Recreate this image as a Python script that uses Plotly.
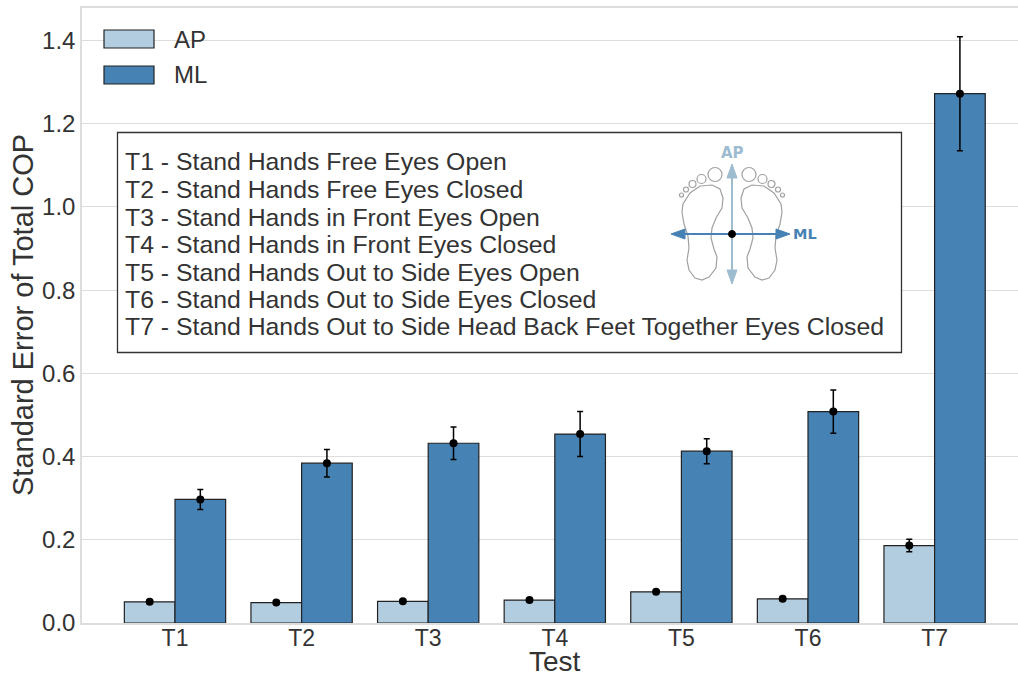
import plotly.graph_objects as go

tests = ["T1", "T2", "T3", "T4", "T5", "T6", "T7"]
ap_values = [0.051, 0.049, 0.052, 0.055, 0.075, 0.058, 0.186]
ap_err = [0.004, 0.004, 0.004, 0.004, 0.005, 0.005, 0.015]
ml_values = [0.297, 0.384, 0.432, 0.454, 0.413, 0.508, 1.272]
ml_err = [0.024, 0.033, 0.039, 0.054, 0.030, 0.052, 0.137]
legend_lines = [
    "T1 - Stand Hands Free Eyes Open",
    "T2 - Stand Hands Free Eyes Closed",
    "T3 - Stand Hands in Front Eyes Open",
    "T4 - Stand Hands in Front Eyes Closed",
    "T5 - Stand Hands Out to Side Eyes Open",
    "T6 - Stand Hands Out to Side Eyes Closed",
    "T7 - Stand Hands Out to Side Head Back Feet Together Eyes Closed",
]

FONT = "Liberation Sans"
TXT = "#333333"
AP_C = "#b3cde0"
ML_C = "#4682b4"
W, H = 1018, 678
L, R, T, B = 82, 1018, 8, 623


def px(x):
    return (x - L) / (R - L)


def py(y):
    return (B - y) / (B - T)


fig = go.Figure()
fig.add_bar(name="AP", x=tests, y=ap_values, marker=dict(color=AP_C, line=dict(color="#222222", width=1.2)))
fig.add_bar(name="ML", x=tests, y=ml_values, marker=dict(color=ML_C, line=dict(color="#222222", width=1.2)))

offset = 0.2
for vals, errs, sign in ((ap_values, ap_err, -1), (ml_values, ml_err, 1)):
    fig.add_scatter(
        x=[i + sign * offset for i in range(len(tests))], y=vals, mode="markers", showlegend=False,
        xaxis="x2", marker=dict(color="black", size=8),
        error_y=dict(type="data", array=errs, color="black", thickness=1.5, width=3),
        hoverinfo="skip",
    )

shapes = []
annots = []


def line(x0, y0, x1, y1, color, width):
    shapes.append(dict(type="line", xref="paper", yref="paper", x0=px(x0), y0=py(y0), x1=px(x1), y1=py(y1),
                       line=dict(color=color, width=width), layer="above"))


def path(points, color, width=1, fill=None, close=False):
    d = "M " + " L ".join(f"{px(a):.5f},{py(b):.5f}" for a, b in points)
    if close:
        d += " Z"
    shapes.append(dict(type="path", xref="paper", yref="paper", path=d,
                       line=dict(color=color, width=width), fillcolor=fill, layer="above"))


def circle(cx, cy, r, color, width=1, fill=None):
    shapes.append(dict(type="circle", xref="paper", yref="paper", x0=px(cx - r), x1=px(cx + r), y0=py(cy - r), y1=py(cy + r),
                       line=dict(color=color, width=width), fillcolor=fill, layer="above"))


# axis titles
annots.append(dict(xref="paper", yref="paper", x=px(555), y=py(661.5), text="Test", showarrow=False, xanchor="center",
                   yanchor="middle", font=dict(family=FONT, size=28, color=TXT)))
annots.append(dict(xref="paper", yref="paper", x=px(23), y=py(315), text="Standard Error of Total COP", showarrow=False,
                   xanchor="center", yanchor="middle", textangle=-90, font=dict(family=FONT, size=29, color=TXT)))

# text box
shapes.append(dict(type="rect", xref="paper", yref="paper", x0=px(117.5), x1=px(901.5), y0=py(352.5), y1=py(132.5),
                   line=dict(color="#333333", width=1.3), fillcolor="white", layer="above"))

# legend patches
for yc, col, lab in ((39, AP_C, "AP"), (75, ML_C, "ML")):
    shapes.append(dict(type="rect", xref="paper", yref="paper", x0=px(104), x1=px(154), y0=py(yc + 9), y1=py(yc - 9),
                       line=dict(color="#222222", width=1.2), fillcolor=col, layer="above"))
    annots.append(dict(xref="paper", yref="paper", x=px(172), y=py(yc), text=lab, showarrow=False, xanchor="left",
                       yanchor="middle", font=dict(family=FONT, size=24, color=TXT)))

ys = [162, 189.5, 217, 244.5, 272, 299.5, 326.5]
for s, yy in zip(legend_lines, ys):
    annots.append(dict(xref="paper", yref="paper", x=px(123), y=py(yy), text=s, showarrow=False, xanchor="left",
                       yanchor="middle", font=dict(family=FONT, size=24.8, color=TXT)))

# foot illustration
G = "#a0a0a0"
left_foot = [(700, 186), (712, 185), (720, 189), (723, 198), (722, 208), (716, 218), (712, 228), (711, 238),
             (714, 249), (717, 257), (716, 268), (709, 277), (702, 280), (695, 278), (689, 270), (687, 260),
             (689, 248), (688, 236), (684, 224), (682, 212), (683, 204), (690, 193)]
cx = 732
right_foot = [(2 * cx - a, b) for a, b in left_foot]
path(left_foot, G, 1.2, close=True)
path(right_foot, G, 1.2, close=True)
for (a, b, r) in [(715, 174.5, 7), (701.5, 179, 4.5), (692.5, 184, 3.5), (686, 189.5, 2.5), (681.5, 195, 2)]:
    circle(a, b, r, G, 1.2)
    circle(2 * cx - a, b, r, G, 1.2)

AP_A = "#9dbccf"
line(732, 175, 732, 275, AP_A, 2)
path([(732, 164), (727, 178), (737, 178)], AP_A, 1, AP_A, True)
path([(732, 284), (727, 270), (737, 270)], AP_A, 1, AP_A, True)
line(680, 234, 780, 234, ML_C, 2)
path([(671, 234), (685, 229), (685, 239)], ML_C, 1, ML_C, True)
path([(790, 234), (776, 229), (776, 239)], ML_C, 1, ML_C, True)
circle(732, 234, 3.5, "black", 1, "black")
annots.append(dict(xref="paper", yref="paper", x=px(732.5), y=py(152.5), text="<b>AP</b>", showarrow=False,
                   xanchor="center", yanchor="middle", font=dict(family="DejaVu Sans", size=15, color=AP_A)))
annots.append(dict(xref="paper", yref="paper", x=px(791), y=py(233.5), text="<b>ML</b>", showarrow=False, xanchor="left",
                   yanchor="middle", font=dict(family="DejaVu Sans", size=14.5, color=ML_C)))

xmin = (L - 175) / 126.6
xmax = (R - 175) / 126.6
fig.update_layout(
    width=W, height=H, autosize=False, barmode="group", bargap=0.2, bargroupgap=0,
    margin=dict(l=L, r=W - R, t=T, b=H - B, autoexpand=False), plot_bgcolor="white", paper_bgcolor="white",
    showlegend=False, shapes=shapes, annotations=annots,
    font=dict(family=FONT, size=20, color=TXT),
    xaxis=dict(automargin=False, range=[xmin, xmax], showgrid=False, ticklabelstandoff=-6,
               showline=True, linecolor="#dddddd", linewidth=1.5, mirror=True, ticks="", tickfont=dict(size=23),
               type="category", categoryorder="array", categoryarray=tests),
    xaxis2=dict(range=[xmin, xmax], overlaying="x", visible=False),
    yaxis=dict(automargin=False, range=[0, 1.478],
               dtick=0.2, tickformat=".1f", showgrid=True, gridcolor="#dddddd", gridwidth=1, showline=True,
               linecolor="#dddddd", linewidth=1.5, mirror=True, ticks="", tickfont=dict(size=24), zeroline=False),
)
fig.write_html("out.html", post_script="document.body.style.margin='0';", config=dict(displayModeBar=False))
